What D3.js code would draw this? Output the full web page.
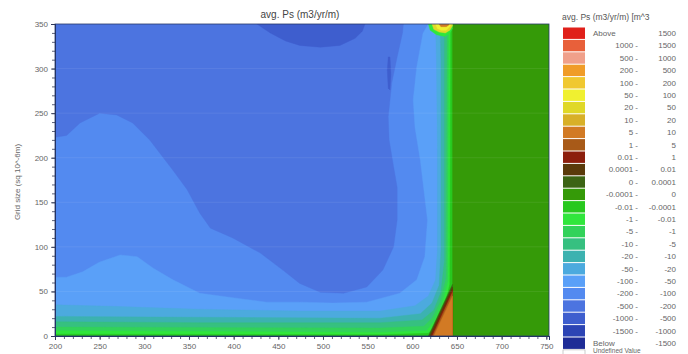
<!DOCTYPE html>
<html>
<head>
<meta charset="utf-8">
<script src="https://cdn.jsdelivr.net/npm/d3@7"></script>
<style>
  html, body { margin: 0; padding: 0; background: #fff; }
  svg { display: block; font-family: "Liberation Sans", Arial, sans-serif; }
</style>
</head>
<body>
<svg id="chart" width="688" height="354"></svg>
<script>
// ---- axis ticks ----
const xTicks = [200, 250, 300, 350, 400, 450, 500, 550, 600, 650, 700, 750];
const yTicks = [0, 50, 100, 150, 200, 250, 300, 350];

// ---- legend classes (value bins of avg. Ps) ----
const binLow = ["Above", "1000 -", "500 -", "200 -", "100 -", "50 -", "20 -", "10 -", "5 -", "1 -",
  "0.01 -", "0.0001 -", "0 -", "-0.0001 -", "-0.01 -", "-1 -", "-5 -", "-10 -", "-20 -", "-50 -",
  "-100 -", "-200 -", "-500 -", "-1000 -", "-1500 -", "Below"];
const binHigh = ["1500", "1500", "1000", "500", "200", "100", "50", "20", "10", "5",
  "1", "0.01", "0.0001", "0", "-0.0001", "-0.01", "-1", "-5", "-10", "-20",
  "-50", "-100", "-200", "-500", "-1000", "-1500"];
const binColor = ["#e0201a", "#e8603a", "#f0a08a", "#f09c28", "#f0c830", "#f0f030", "#e0d828", "#d8b028", "#d27a24", "#a85a18",
  "#8c1e0c", "#5a3a0a", "#3c6414", "#359a08", "#28c81e", "#30e63c", "#32d25a", "#36c080", "#3cb2b0", "#4caade",
  "#5aa0f8", "#538af0", "#4c74e0", "#3e5ece", "#2c44b4", "#1e2c96"];

// ---- contour regions (x, grid size) ----
const plotArea = [[200, 0], [753, 0], [753, 350], [200, 350]];
const band500 = [[200, 350], [590, 350], [589, 340], [583, 313], [577, 284], [573, 246], [574, 220], [579, 190],
  [583, 167], [583, 130], [579, 100], [567, 74], [549, 55], [523, 48], [497, 49], [474, 59], [455, 74], [430, 93],
  [399, 110], [374, 121], [362, 138], [348, 164], [332, 186], [306, 220], [287, 239], [269, 248], [250, 250],
  [228, 239], [213, 225], [200, 223]];
const band1000 = [[426, 350], [441, 340], [458, 331], [474, 326], [497, 324], [519, 326], [536, 334], [544, 342], [547, 350]];
const streak1000 = [[573, 313], [575, 313], [576, 293], [575, 276], [573, 278], [572, 298]];
const band100 = [[200, 66], [213, 66], [231, 72], [250, 83], [273, 91], [292, 89], [310, 76], [332, 63], [362, 48],
  [399, 43], [437, 38], [474, 38], [511, 37], [549, 38], [586, 48], [605, 63], [614, 89], [617, 130], [609, 197],
  [603, 234], [601, 265], [605, 302], [612, 340], [618, 350], [645, 350], [645, 0], [200, 0]];
const band50 = [[200, 35], [273, 33], [362, 30], [474, 28], [564, 28], [603, 34], [618, 45], [626, 63], [628, 96],
  [628, 209], [627, 310], [626, 350], [645, 350], [645, 0], [200, 0]];
const band20 = [[200, 22], [362, 21], [564, 20], [609, 25], [622, 37], [630, 57], [632, 96], [632, 310], [631, 350],
  [645, 350], [645, 0], [200, 0]];
const band10 = [[200, 16], [362, 15], [564, 15], [611, 18], [624, 29], [632, 49], [636, 85], [636, 350], [645, 350], [645, 0], [200, 0]];
const band5 = [[200, 10], [564, 9], [613, 11], [622, 20], [631, 38], [638, 65], [639, 350], [645, 350], [645, 0], [200, 0]];
const band1 = [[200, 6], [564, 4], [616, 6], [624, 16], [633, 35], [640, 61], [641, 350], [645, 350], [645, 0], [200, 0]];
const band001 = [[200, 2], [564, 1.5], [618, 3], [628, 14], [636, 33], [642, 58], [643, 350], [645, 350], [645, 0], [200, 0]];
const bandZero = [[645, 0], [753, 0], [753, 350], [645, 350]];
const wedge0 = [[618, 0], [645, 58], [645, 0]];
const wedge0001 = [[619.5, 0], [645, 55], [645, 0]];
const wedge001 = [[621, 0], [645, 52], [645, 0]];
const wedge1 = [[622.5, 0], [645, 49], [645, 0]];
const wedge5 = [[624, 0], [645, 45], [645, 0]];
const cap1 = [[618, 350], [620, 343], [627, 338], [636, 336], [642, 340], [645, 345], [645, 350]];
const cap20 = [[622, 350], [624, 344], [630, 341], [637, 340], [642, 343], [645, 348], [645, 350]];
const cap50 = [[626, 350], [628, 345], [632, 343], [638, 343], [642, 347], [644, 350]];
const cap5 = [[630, 350], [632, 347], [638, 347], [641, 349], [641, 350]];

// paint order: [region, legend bin]
const layers = [
  [plotArea, 21], [band500, 22], [band1000, 23], [streak1000, 23], [band100, 20],
  [band50, 19], [band20, 18], [band10, 17], [band5, 16], [band1, 15], [band001, 14],
  [bandZero, 13], [wedge0, 12], [wedge0001, 11], [wedge001, 10], [wedge1, 9], [wedge5, 8],
  [cap1, 15], [cap20, 6], [cap50, 5], [cap5, 8]
];

const svg = d3.select("#chart");
const x = d3.scaleLinear().domain([200, 753]).range([55, 549]);
const y = d3.scaleLinear().domain([0, 350]).range([336, 24]);

svg.append("defs").append("clipPath").attr("id", "plotClip")
  .append("rect").attr("x", x(200)).attr("y", y(350))
  .attr("width", x(753) - x(200)).attr("height", y(0) - y(350));

const area = d3.line().x(d => x(d[0])).y(d => y(d[1])).curve(d3.curveLinearClosed);
const plot = svg.append("g").attr("clip-path", "url(#plotClip)");
plot.selectAll("path.band").data(layers).join("path")
  .attr("class", "band")
  .attr("d", d => area(d[0]))
  .attr("fill", d => binColor[d[1]])
  .attr("stroke", d => binColor[d[1]])
  .attr("stroke-width", 0.4);

// faint grid
plot.selectAll("line.grid").data(yTicks.slice(1, -1)).join("line")
  .attr("class", "grid")
  .attr("x1", x(200)).attr("x2", x(753))
  .attr("y1", d => y(d)).attr("y2", d => y(d))
  .attr("stroke", "#ffffff").attr("stroke-opacity", 0.08);

// frame
svg.append("rect").attr("x", x(200)).attr("y", y(350))
  .attr("width", x(753) - x(200)).attr("height", y(0) - y(350))
  .attr("fill", "none").attr("stroke", "#2a3a6a").attr("stroke-width", 0.8);

// axes
const xMinor = d3.range(200, 754, 10);
const yMinor = d3.range(0, 351, 10);
const gx = svg.append("g").attr("transform", `translate(0,${y(0)})`);
gx.call(d3.axisBottom(x).tickValues(xMinor).tickSize(3).tickFormat(""));
gx.append("g").call(d3.axisBottom(x).tickValues(xTicks).tickSize(4).tickPadding(3).tickFormat(d3.format("d")));
const gy = svg.append("g").attr("transform", `translate(${x(200)},0)`);
gy.call(d3.axisLeft(y).tickValues(yMinor).tickSize(3).tickFormat(""));
gy.append("g").call(d3.axisLeft(y).tickValues(yTicks).tickSize(4).tickPadding(3).tickFormat(d3.format("d")));
svg.selectAll(".domain").attr("stroke", "#223366");
svg.selectAll(".tick line").attr("stroke", "#333a55").attr("stroke-width", 0.8);
svg.selectAll(".tick text").attr("fill", "#666").attr("font-size", 8)
  .attr("font-family", "'Liberation Sans', Arial, sans-serif");

svg.append("text").attr("transform", `translate(20,${(y(0) + y(350)) / 2 + 2}) rotate(-90)`)
  .attr("text-anchor", "middle").attr("font-size", 8).attr("fill", "#666")
  .text("Grid size (sq 10^-6m)");

svg.append("text").attr("x", 300).attr("y", 18).attr("text-anchor", "middle")
  .attr("font-size", 10).attr("fill", "#444").text("avg. Ps (m3/yr/m)");

// legend
const lg = svg.append("g");
lg.append("text").attr("x", 562).attr("y", 20).attr("font-size", 8.5).attr("fill", "#555")
  .text("avg. Ps (m3/yr/m) [m^3");
const rowH = 12.4, row0 = 27;
const rows = lg.selectAll("g.row").data(binLow).join("g").attr("class", "row")
  .attr("transform", (d, i) => `translate(0,${row0 + i * rowH})`);
rows.append("rect").attr("x", 563).attr("y", 0.5).attr("width", 22).attr("height", rowH - 1)
  .attr("fill", (d, i) => binColor[i]);
rows.append("text")
  .attr("x", d => (d === "Above" || d === "Below") ? 593 : 638)
  .attr("text-anchor", d => (d === "Above" || d === "Below") ? "start" : "end")
  .attr("y", 9).attr("font-size", 8).attr("fill", "#666").text(d => d);
rows.append("text").attr("x", 676).attr("y", 9).attr("text-anchor", "end")
  .attr("font-size", 8).attr("fill", "#666").text((d, i) => binHigh[i]);
const undefTop = row0 + binLow.length * rowH;
const undef = lg.append("g");
undef.append("rect").attr("x", 563).attr("y", undefTop + 0.5).attr("width", 22).attr("height", rowH - 1)
  .attr("fill", "#fff").attr("stroke", "#999").attr("stroke-width", 0.5);
undef.append("text").attr("x", 593).attr("y", 353).attr("font-size", 6.5).attr("fill", "#666").text("Undefined Value");
</script>
</body>
</html>
